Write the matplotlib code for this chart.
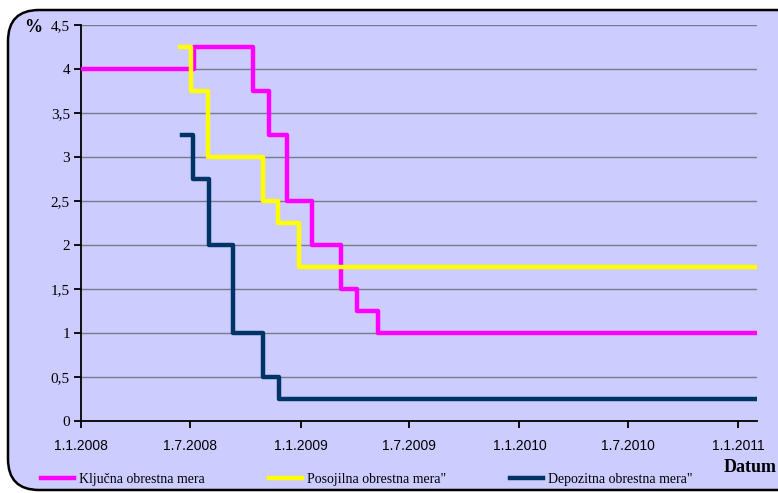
import matplotlib
matplotlib.use("Agg")
import matplotlib.pyplot as plt
from matplotlib.patches import FancyBboxPatch
from matplotlib.ticker import FuncFormatter
import numpy as np
import pandas as pd

# obrestne mere (datum spremembe, vrednost v %)
kljucna_datumi = ["2008-01-01", "2008-07-07", "2008-10-14", "2008-11-10", "2008-12-09",
                  "2009-01-20", "2009-03-10", "2009-04-05", "2009-05-10", "2011-01-31"]
kljucna = [4.0, 4.25, 3.75, 3.25, 2.5, 2.0, 1.5, 1.25, 1.0, 1.0]

posojilna_datumi = ["2008-06-14", "2008-07-03", "2008-07-31", "2008-10-30", "2008-11-25",
                    "2008-12-30", "2011-01-31"]
posojilna = [4.25, 3.75, 3.0, 2.5, 2.25, 1.75, 1.75]

depozitna_datumi = ["2008-06-17", "2008-07-05", "2008-08-02", "2008-09-11", "2008-10-30",
                    "2008-11-26", "2011-01-31"]
depozitna = [3.25, 2.75, 2.0, 1.0, 0.5, 0.25, 0.25]

x_ticks = ["2008-01-01", "2008-07-01", "2009-01-01", "2009-07-01", "2010-01-01",
           "2010-07-01", "2011-01-01"]
x_labels = ["1.1.2008", "1.7.2008", "1.1.2009", "1.7.2009", "1.1.2010", "1.7.2010", "1.1.2011"]

ozadje = "#CCCCFF"

fig = plt.figure(figsize=(7.78, 4.93), dpi=100)
fig.patch.set_facecolor("white")

# zaobljen okvir okoli grafa
okvir = FancyBboxPatch((8 / 778, 3 / 493), 800 / 778, 480 / 493,
                       boxstyle="round,pad=0,rounding_size=0.04",
                       transform=fig.transFigure, facecolor=ozadje,
                       edgecolor="black", linewidth=1.8, zorder=-5,
                       mutation_aspect=778 / 493)
fig.patches.append(okvir)

ax = fig.add_axes([81 / 778, 1 - 421 / 493, (757 - 81) / 778, (421 - 25) / 493])
ax.set_facecolor(ozadje)

serije = [
    (kljucna_datumi, kljucna, "#FF00FF", "Ključna obrestna mera"),
    (posojilna_datumi, posojilna, "#FFFF00", 'Posojilna obrestna mera"'),
    (depozitna_datumi, depozitna, "#003366", 'Depozitna obrestna mera"'),
]
for datumi, vrednosti, barva, ime in serije:
    ax.plot(pd.to_datetime(datumi), vrednosti, drawstyle="steps-post",
            color=barva, linewidth=3.2, label=ime, zorder=3)

ax.set_ylim(0, 4.5)
ax.set_yticks(np.arange(0, 4.51, 0.5))
ax.yaxis.set_major_formatter(FuncFormatter(lambda v, p: ("%g" % v).replace(".", ",")))
ax.set_xlim(pd.Timestamp("2008-01-01"), pd.Timestamp("2011-02-01"))
ax.set_xticks(pd.to_datetime(x_ticks))
ax.set_xticklabels(x_labels)

ax.grid(axis="y", color="#7a7a8a", linewidth=1.0, zorder=1)
ax.set_axisbelow(True)
for s in ["top", "right"]:
    ax.spines[s].set_visible(False)
for s in ["left", "bottom"]:
    ax.spines[s].set_linewidth(1.3)

ax.tick_params(axis="y", direction="out", length=5, width=1.3, pad=3)
ax.tick_params(axis="x", direction="out", length=5, width=1.3, pad=8)
for t in ax.get_yticklabels():
    t.set_fontfamily("Liberation Serif")
    t.set_fontsize(11)
for t in ax.get_xticklabels():
    t.set_fontfamily("Liberation Sans")
    t.set_fontsize(10)

fig.text(33 / 778, 1 - 28 / 493, "%", fontfamily="Liberation Serif", fontweight="bold",
         fontsize=13, ha="center", va="center")
fig.text(777 / 778, 1 - 468 / 493, "Datum", fontfamily="Liberation Serif", fontweight="bold",
         fontsize=13, ha="right", va="center")

fig.legend(loc="center left", bbox_to_anchor=(41 / 778, 1 - 479 / 493), ncol=3,
           frameon=False, prop={"family": "Liberation Serif", "size": 10},
           handlelength=2.4, handletextpad=0.35, columnspacing=4.6,
           borderpad=0, borderaxespad=0)

fig.savefig("out.png", dpi=100, facecolor="white")
